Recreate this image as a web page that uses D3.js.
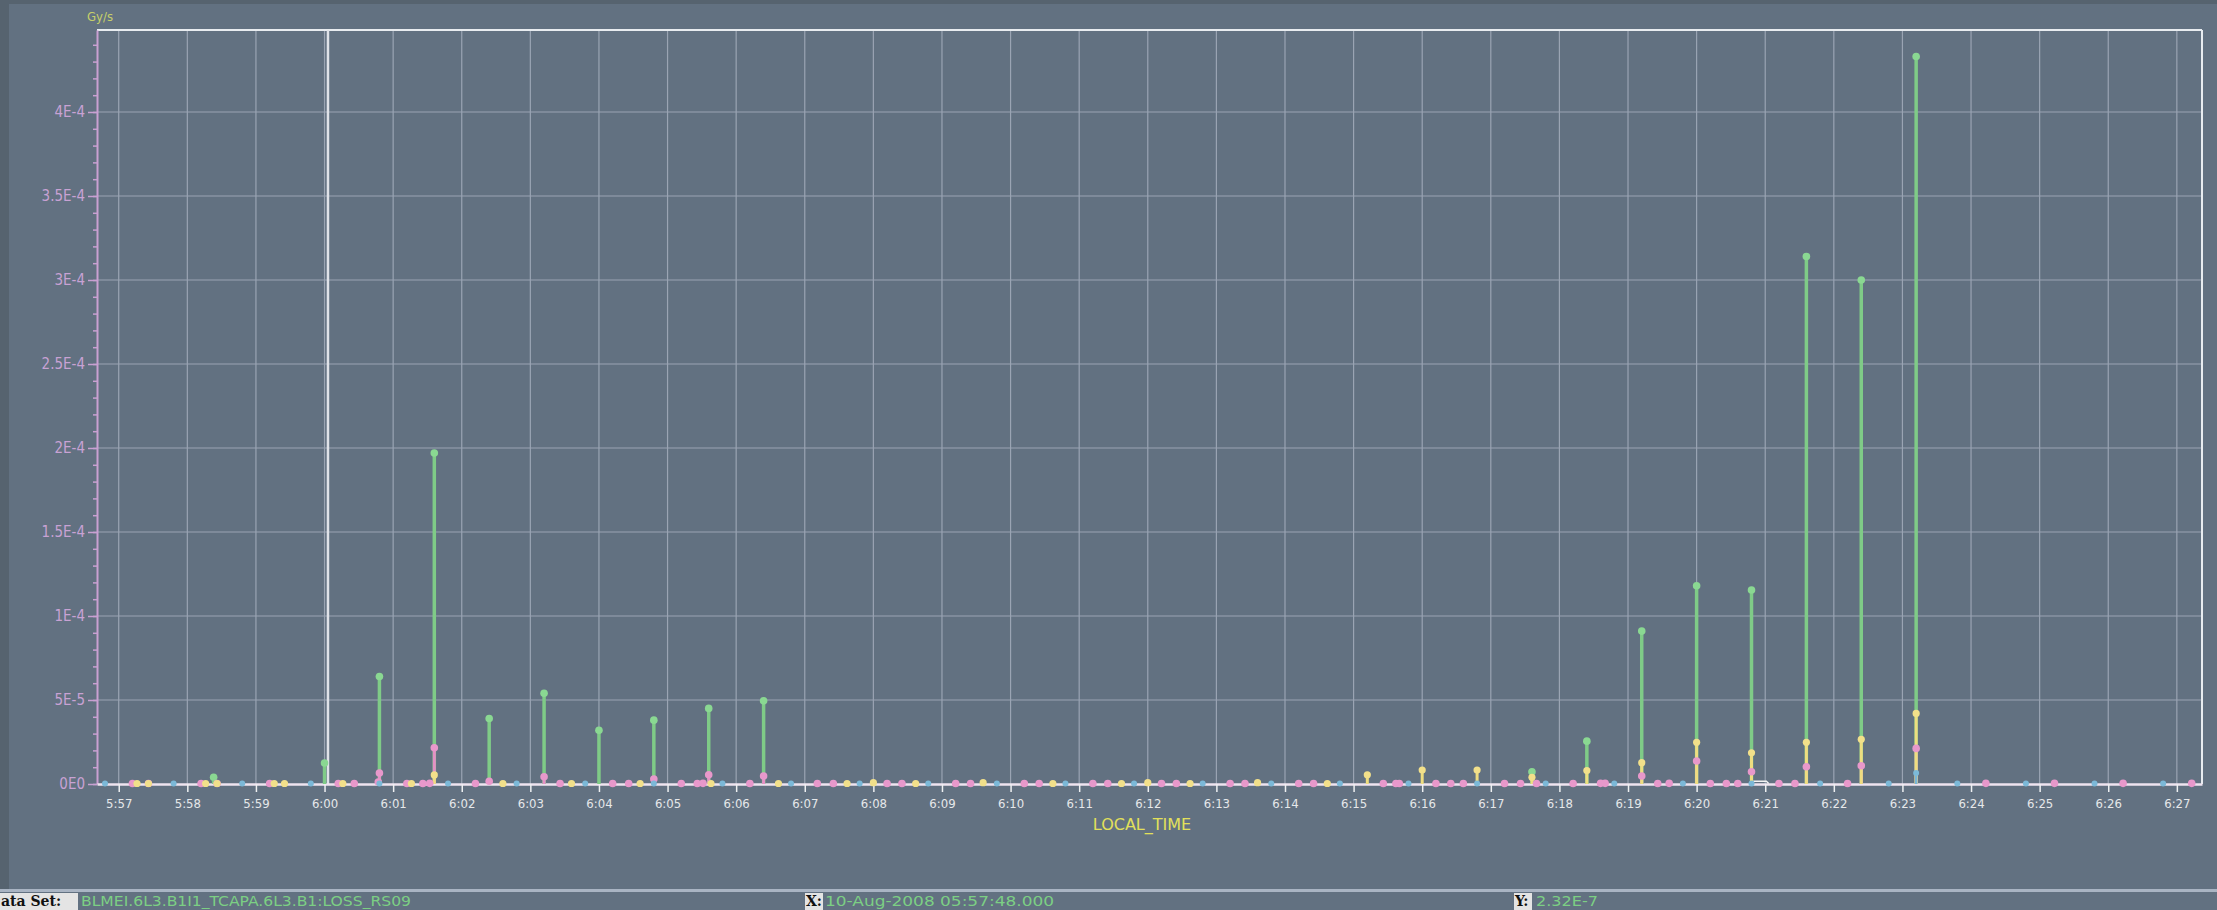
<!DOCTYPE html>
<html>
<head>
<meta charset="utf-8">
<script src="https://cdn.jsdelivr.net/npm/d3@7"></script>
<style>
  body { margin: 0; background: #627181; overflow: hidden; }
  svg { display: block; }
  text { font-family: "DejaVu Sans Condensed", "DejaVu Sans", sans-serif; }
</style>
</head>
<body>
<svg id="chart" width="2217" height="910"></svg>
<script>
// time range of the view
var timeStart = "5:56:41", timeEnd = "6:27:22";

// y axis ticks
var yTickValues = [0, 5e-5, 1e-4, 1.5e-4, 2e-4, 2.5e-4, 3e-4, 3.5e-4, 4e-4];
var yTickLabels = ["0E0", "5E-5", "1E-4", "1.5E-4", "2E-4", "2.5E-4", "3E-4", "3.5E-4", "4E-4"];

// green series (big spikes every 48 s)
var greenData = [
  ["5:58:23", 4e-6],
  ["6:00:00", 1.25e-5], ["6:00:48", 6.4e-5], ["6:01:36", 1.97e-4], ["6:02:24", 3.9e-5],
  ["6:03:12", 5.4e-5], ["6:04:00", 3.2e-5], ["6:04:48", 3.8e-5], ["6:05:36", 4.5e-5],
  ["6:06:24", 4.95e-5],
  ["6:17:36", 7.3e-6], ["6:18:24", 2.55e-5], ["6:19:12", 9.1e-5], ["6:20:00", 1.18e-4],
  ["6:20:48", 1.155e-4], ["6:21:36", 3.14e-4], ["6:22:24", 3.0e-4], ["6:23:12", 4.33e-4]
];

// pink series
var pinkData = [
  ["5:57:12", 3e-7], ["5:57:26", 3e-7], ["5:58:12", 3e-7], ["5:58:26", 3e-7],
  ["5:59:12", 3e-7], ["6:00:12", 3e-7], ["6:00:26", 3e-7], ["6:00:48", 6.5e-6], ["6:00:47", 1.2e-6],
  ["6:01:12", 3e-7], ["6:01:26", 3e-7], ["6:01:32", 4e-7], ["6:01:36", 2.16e-5],
  ["6:02:12", 3e-7], ["6:02:24", 1.6e-6], ["6:03:12", 4.3e-6], ["6:03:26", 3e-7],
  ["6:04:12", 3e-7], ["6:04:26", 3e-7], ["6:04:48", 3e-6], ["6:05:12", 3e-7], ["6:05:26", 3e-7],
  ["6:05:31", 4e-7], ["6:05:36", 5.5e-6], ["6:06:12", 3e-7], ["6:06:24", 4.7e-6],
  ["6:07:11", 3e-7], ["6:07:25", 3e-7], ["6:08:12", 3e-7], ["6:08:25", 3e-7],
  ["6:09:12", 3e-7], ["6:09:25", 3e-7], ["6:10:12", 3e-7], ["6:10:25", 3e-7],
  ["6:11:12", 3e-7], ["6:11:25", 3e-7], ["6:12:12", 3e-7], ["6:12:25", 3e-7],
  ["6:13:12", 3e-7], ["6:13:25", 3e-7], ["6:14:12", 3e-7], ["6:14:25", 3e-7],
  ["6:15:26", 3e-7], ["6:15:37", 3e-7], ["6:15:40", 3e-7], ["6:16:12", 3e-7], ["6:16:25", 3e-7],
  ["6:16:36", 3e-7], ["6:17:12", 3e-7], ["6:17:26", 3e-7], ["6:17:40", 3e-7],
  ["6:18:12", 3e-7], ["6:18:36", 4e-7], ["6:18:40", 4e-7], ["6:19:12", 4.8e-6], ["6:19:26", 3e-7],
  ["6:19:36", 4e-7], ["6:20:00", 1.37e-5], ["6:20:12", 3e-7], ["6:20:26", 3e-7], ["6:20:36", 3e-7],
  ["6:20:48", 7.3e-6], ["6:21:12", 3e-7], ["6:21:26", 3e-7], ["6:21:36", 1.03e-5],
  ["6:22:12", 3e-7], ["6:22:24", 1.09e-5], ["6:23:12", 2.12e-5],
  ["6:24:13", 4e-7], ["6:25:13", 4e-7], ["6:26:13", 4e-7], ["6:27:13", 4e-7]
];

// yellow series
var yellowData = [
  ["5:57:16", 3e-7], ["5:57:26", 3e-7], ["5:58:16", 3e-7], ["5:58:26", 3e-7],
  ["5:59:16", 3e-7], ["5:59:25", 3e-7], ["6:00:16", 3e-7], ["6:01:16", 3e-7],
  ["6:01:36", 5.4e-6], ["6:02:36", 3e-7], ["6:03:36", 3e-7], ["6:04:36", 3e-7],
  ["6:05:38", 3e-7], ["6:06:37", 3e-7], ["6:07:37", 3e-7], ["6:08:00", 8e-7],
  ["6:08:37", 3e-7], ["6:09:36", 8e-7], ["6:10:37", 3e-7], ["6:11:37", 3e-7],
  ["6:12:00", 8e-7], ["6:12:37", 3e-7], ["6:13:36", 8e-7], ["6:14:37", 3e-7],
  ["6:15:12", 5.5e-6], ["6:16:00", 8.3e-6], ["6:16:48", 8.3e-6], ["6:17:36", 4e-6],
  ["6:18:24", 8e-6], ["6:19:12", 1.27e-5], ["6:20:00", 2.48e-5], ["6:20:48", 1.86e-5],
  ["6:21:36", 2.48e-5], ["6:22:24", 2.66e-5], ["6:23:12", 4.2e-5]
];

// blue series (the selected data set, one sample a minute)
var blueData = [
  ["5:56:48", 2.32e-7], ["5:57:48", 2.32e-7], ["5:58:48", 2.3e-7], ["5:59:48", 2.3e-7],
  ["6:00:48", 2.3e-7], ["6:01:48", 2.3e-7], ["6:02:48", 2.3e-7], ["6:03:48", 2.3e-7],
  ["6:04:48", 2.3e-7], ["6:05:48", 2.3e-7], ["6:06:48", 2.3e-7], ["6:07:48", 2.3e-7],
  ["6:08:48", 2.3e-7], ["6:09:48", 2.3e-7], ["6:10:48", 2.3e-7], ["6:11:48", 2.3e-7],
  ["6:12:48", 2.3e-7], ["6:13:48", 2.3e-7], ["6:14:48", 2.3e-7], ["6:15:48", 2.3e-7],
  ["6:16:48", 2.3e-7], ["6:17:48", 2.3e-7], ["6:18:48", 2.3e-7], ["6:19:48", 2.3e-7],
  ["6:20:48", 2.3e-7], ["6:21:48", 2.3e-7], ["6:22:48", 2.3e-7], ["6:23:12", 6.5e-6],
  ["6:23:48", 2.3e-7], ["6:24:48", 2.3e-7], ["6:25:48", 2.3e-7], ["6:26:48", 2.3e-7]
];

// small white trace after the 6:20:48 spike
var whiteData = [["6:20:49", 3e-7], ["6:20:50", 1.6e-6], ["6:21:01", 1.6e-6], ["6:21:03", 3e-7]];

var cursorTime = "6:00:03";

var parse = d3.timeParse("%H:%M:%S");
var margin = { top: 30, right: 15, bottom: 126, left: 97 };
var width = 2217, height = 910;

var svg = d3.select("svg#chart");

// window frame
svg.append("rect").attr("x", 0).attr("y", 0).attr("width", 9).attr("height", 890).attr("fill", "#56636f");
svg.append("rect").attr("x", 0).attr("y", 0).attr("width", width).attr("height", 4).attr("fill", "#56636f");

var x = d3.scaleTime()
  .domain([parse(timeStart), parse(timeEnd)])
  .range([margin.left, width - margin.right]);
var y = d3.scaleLinear()
  .domain([0, 4.488e-4])
  .range([height - margin.bottom, margin.top]);

var minutes = x.ticks(d3.timeMinute.every(1));

// grid
svg.append("g")
  .selectAll("line")
  .data(minutes)
  .join("line")
    .attr("x1", d => x(d)).attr("x2", d => x(d))
    .attr("y1", y.range()[1]).attr("y2", y.range()[0])
    .attr("stroke", "#9aa4b3").attr("stroke-width", 1.2);
svg.append("g")
  .selectAll("line")
  .data(yTickValues.slice(1))
  .join("line")
    .attr("x1", x.range()[0]).attr("x2", x.range()[1])
    .attr("y1", d => y(d)).attr("y2", d => y(d))
    .attr("stroke", "#9aa4b3").attr("stroke-width", 1.2);

// frame top / right
svg.append("line")
  .attr("x1", x.range()[0]).attr("x2", x.range()[1])
  .attr("y1", y.range()[1]).attr("y2", y.range()[1])
  .attr("stroke", "#e8ecf0").attr("stroke-width", 2);
svg.append("line")
  .attr("x1", x.range()[1]).attr("x2", x.range()[1])
  .attr("y1", y.range()[1]).attr("y2", y.range()[0])
  .attr("stroke", "#e8ecf0").attr("stroke-width", 2);

// cursor
svg.append("line")
  .attr("x1", x(parse(cursorTime))).attr("x2", x(parse(cursorTime)))
  .attr("y1", y.range()[1]).attr("y2", y.range()[0])
  .attr("stroke", "#dfe2e8").attr("stroke-width", 2.5);

// y axis
var yAxisMinor = svg.append("g")
  .attr("transform", `translate(${margin.left},0)`)
  .call(d3.axisLeft(y).tickValues(d3.range(0, 4.5e-4, 1e-5)).tickSize(4).tickFormat("").tickSizeOuter(0));
yAxisMinor.selectAll("line").attr("stroke", "#c9a0d2").attr("stroke-width", 1.5);
yAxisMinor.select(".domain").attr("stroke", "#c9a0d2").attr("stroke-width", 2);

var yAxis = svg.append("g")
  .attr("transform", `translate(${margin.left},0)`)
  .call(d3.axisLeft(y).tickValues(yTickValues).tickFormat((d, i) => yTickLabels[i]).tickSize(9).tickPadding(3))
  .call(g => g.select(".domain").remove());
yAxis.selectAll("line").attr("stroke", "#c9a0d2").attr("stroke-width", 1.5);
yAxis.selectAll("text")
  .attr("fill", "#c8a2d4")
  .attr("font-size", 15)
  .style("font-family", '"DejaVu Sans Condensed", "DejaVu Sans", sans-serif');

svg.append("text")
  .attr("x", 87).attr("y", 21)
  .attr("fill", "#c6cf6a")
  .attr("font-size", 13)
  .text("Gy/s");

// series: stems then dots
var series = [
  { data: greenData, stem: "#7fcb87", dot: "#8ad892", sw: 3.5, r: 3.8 },
  { data: pinkData, stem: "#e590c6", dot: "#e898cb", sw: 3, r: 3.8 },
  { data: yellowData, stem: "#eedd80", dot: "#f2e08a", sw: 3, r: 3.6 },
  { data: blueData, stem: "#79b6d6", dot: "#7cb9d8", sw: 2.5, r: 3 }
];

var marks = svg.append("g");
series.forEach(function(s) {
  marks.append("g")
    .selectAll("line")
    .data(s.data.filter(d => d[1] > 1.5e-6))
    .join("line")
      .attr("x1", d => x(parse(d[0]))).attr("x2", d => x(parse(d[0])))
      .attr("y1", y(0)).attr("y2", d => y(d[1]))
      .attr("stroke", s.stem).attr("stroke-width", s.sw);
});

marks.append("path")
  .datum(whiteData)
  .attr("d", d3.line().x(d => x(parse(d[0]))).y(d => y(d[1])))
  .attr("fill", "none")
  .attr("stroke", "#f4f4f4")
  .attr("stroke-width", 1.5);

// x axis (baseline)
var xAxis = svg.append("g")
  .attr("transform", `translate(0,${y(0)})`)
  .call(d3.axisBottom(x).ticks(d3.timeMinute.every(1)).tickFormat(d3.timeFormat("%-H:%M")).tickSize(8).tickSizeOuter(0).tickPadding(7));
xAxis.select(".domain").attr("stroke", "#efe4f0").attr("stroke-width", 2.5);
xAxis.selectAll(".tick line").attr("stroke", "#eef0f2").attr("stroke-width", 1.5);
xAxis.selectAll("text")
  .attr("fill", "#e6e8ea")
  .attr("font-size", 13)
  .style("font-family", '"DejaVu Sans Condensed", "DejaVu Sans", sans-serif');

series.forEach(function(s) {
  marks.append("g")
    .selectAll("circle")
    .data(s.data)
    .join("circle")
      .attr("cx", d => x(parse(d[0])))
      .attr("cy", d => y(d[1]))
      .attr("r", s.r)
      .attr("fill", s.dot);
});
marks.raise();

svg.append("text")
  .attr("x", 1142)
  .attr("y", 830)
  .attr("text-anchor", "middle")
  .attr("fill", "#e2e05a")
  .attr("font-size", 16)
  .style("font-family", '"DejaVu Sans", sans-serif')
  .text("LOCAL_TIME");

// status bar
svg.append("rect").attr("x", 0).attr("y", 889).attr("width", width).attr("height", 3).attr("fill", "#a9b4c3");
var statusItems = [
  { label: "ata Set:", lx: 0, lw: 78, value: "BLMEI.6L3.B1I1_TCAPA.6L3.B1:LOSS_RS09", vx: 81, vw: 330 },
  { label: "X:", lx: 805, lw: 18, value: "10-Aug-2008 05:57:48.000", vx: 825, vw: 229 },
  { label: "Y:", lx: 1514, lw: 18, value: "2.32E-7", vx: 1536, vw: 62 }
];
var sb = svg.append("g").selectAll("g").data(statusItems).join("g");
sb.append("rect")
  .attr("x", d => d.lx).attr("y", 893).attr("width", d => d.lw).attr("height", 17)
  .attr("fill", "#e4e4e4");
sb.append("text")
  .attr("x", d => d.lx + 1).attr("y", 906)
  .attr("font-size", 14).attr("font-weight", "bold")
  .style("font-family", '"DejaVu Serif", serif')
  .attr("fill", "#111")
  .text(d => d.label);
sb.append("text")
  .attr("x", d => d.vx).attr("y", 906)
  .attr("font-size", 14)
  .attr("textLength", d => d.vw)
  .attr("lengthAdjust", "spacingAndGlyphs")
  .attr("fill", "#7ccf84")
  .text(d => d.value);
</script>
</body>
</html>
